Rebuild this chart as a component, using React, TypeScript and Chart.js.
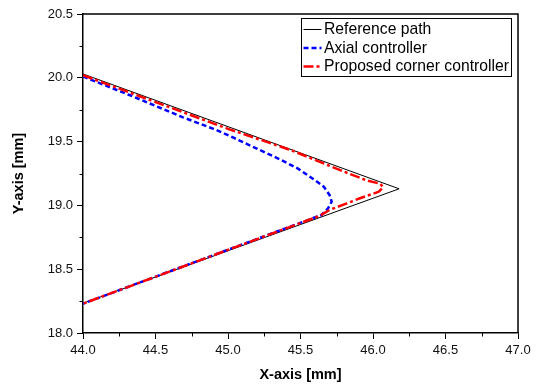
import React, { useEffect, useRef } from "react";
import { Chart, registerables } from "chart.js";

Chart.register(...registerables);

const seriesNames = ["Reference path", "Axial controller", "Proposed corner controller"];

const refX = [44.0, 46.18, 44.0];
const refY = [20.03, 19.13, 18.233];

const axialX = [44.0, 44.32, 44.69, 44.9, 45.03, 45.17, 45.36, 45.48, 45.59, 45.66, 45.7, 45.715, 45.69, 45.645, 44.0];
const axialY = [20.01, 19.865, 19.69, 19.6, 19.535, 19.46, 19.36, 19.29, 19.205, 19.147, 19.082, 19.029, 18.977, 18.925, 18.23];

const propX = [44.0, 45.0, 45.43, 45.77, 45.96, 46.05, 46.07, 46.04, 45.91, 45.82, 45.7, 45.63, 44.0];
const propY = [20.02, 19.6, 19.435, 19.278, 19.194, 19.17, 19.142, 19.107, 19.056, 19.016, 18.964, 18.917, 18.23];

const xTicks = [44.0, 44.5, 45.0, 45.5, 46.0, 46.5, 47.0];
const yTicks = [18.0, 18.5, 19.0, 19.5, 20.0, 20.5];

const toPts = (xs: number[], ys: number[]) => xs.map((x, i) => ({ x, y: ys[i] }));

const FONT = "'Liberation Sans', Arial, sans-serif";

const styles = [
  { color: "#000000", width: 1, dash: [] as number[] },
  { color: "#0000ff", width: 2.5, dash: [5, 3] },
  { color: "#ff0000", width: 2.5, dash: [10, 3, 3, 3] },
];

const framePlugin = {
  id: "frameAndLegend",
  afterDraw(chart: any) {
    const { ctx, chartArea } = chart;
    const xs = chart.scales.x;
    const ys = chart.scales.y;
    ctx.save();
    ctx.strokeStyle = "#000";
    ctx.lineWidth = 1.5;
    ctx.beginPath();
    ctx.moveTo(chartArea.left, chartArea.top);
    ctx.lineTo(chartArea.right, chartArea.top);
    ctx.lineTo(chartArea.right, chartArea.bottom);
    ctx.stroke();
    ctx.lineWidth = 1;
    ctx.beginPath();
    for (let i = 0; i < xTicks.length - 1; i++) {
      const v = (xTicks[i] + xTicks[i + 1]) / 2;
      const px = Math.round(xs.getPixelForValue(v)) + 0.5;
      ctx.moveTo(px, chartArea.bottom);
      ctx.lineTo(px, chartArea.bottom + 3.5);
    }
    for (let i = 0; i < yTicks.length - 1; i++) {
      const v = (yTicks[i] + yTicks[i + 1]) / 2;
      const py = Math.round(ys.getPixelForValue(v)) + 0.5;
      ctx.moveTo(chartArea.left, py);
      ctx.lineTo(chartArea.left - 3.5, py);
    }
    ctx.stroke();

    const w = 210;
    const h = 58;
    const lx = Math.round(chartArea.right - 7 - w) + 0.5;
    const ly = Math.round(chartArea.top + 4) + 0.5;
    ctx.fillStyle = "#fff";
    ctx.fillRect(lx, ly, w, h);
    ctx.strokeStyle = "#000";
    ctx.lineWidth = 1;
    ctx.setLineDash([]);
    ctx.strokeRect(lx, ly, w, h);
    const rows = [11, 29.5, 48];
    ctx.font = `15.7px ${FONT}`;
    ctx.textBaseline = "middle";
    ctx.textAlign = "left";
    seriesNames.forEach((name, i) => {
      const s = styles[i];
      const yy = ly + rows[i];
      ctx.strokeStyle = s.color;
      ctx.lineWidth = s.width;
      ctx.setLineDash(s.dash);
      ctx.beginPath();
      ctx.moveTo(lx + 2, yy);
      ctx.lineTo(lx + 20, yy);
      ctx.stroke();
      ctx.setLineDash([]);
      ctx.fillStyle = "#000";
      ctx.fillText(name, lx + 22.5, yy + 0.5);
    });
    ctx.restore();
  },
};

export default function App() {
  const ref = useRef<HTMLCanvasElement | null>(null);
  useEffect(() => {
    if (!ref.current) return;
    const datasets = [
      { label: seriesNames[0], data: toPts(refX, refY), order: 3 },
      { label: seriesNames[1], data: toPts(axialX, axialY), order: 2 },
      { label: seriesNames[2], data: toPts(propX, propY), order: 1 },
    ].map((d, i) => ({
      ...d,
      showLine: true,
      borderColor: styles[i].color,
      borderWidth: styles[i].width,
      borderDash: styles[i].dash,
      pointRadius: 0,
      pointHoverRadius: 0,
      fill: false,
      tension: 0,
    }));
    const chart = new Chart(ref.current, {
      type: "scatter",
      data: { datasets },
      options: {
        animation: false,
        responsive: false,
        maintainAspectRatio: false,
        devicePixelRatio: 1,
        layout: { padding: { top: 14, right: 22, left: 0, bottom: 0 } },
        plugins: { legend: { display: false }, tooltip: { enabled: false } },
        scales: {
          x: {
            type: "linear",
            min: 44,
            max: 47,
            afterFit: (s: any) => {
              s.height = 52;
            },
            afterBuildTicks: (s: any) => {
              s.ticks = xTicks.map((v) => ({ value: v }));
            },
            ticks: {
              color: "#111",
              font: { family: FONT, size: 13 },
              padding: 4,
              maxRotation: 0,
              callback: (v: any) => Number(v).toFixed(1),
            },
            grid: { drawOnChartArea: false, drawTicks: true, tickLength: 6, color: "#000", lineWidth: 1 },
            border: { display: true, color: "#000", width: 1.5 },
            title: {
              display: true,
              text: "X-axis [mm]",
              color: "#000",
              font: { family: FONT, size: 14.5, weight: "bold" },
              padding: { top: 0, bottom: 1 },
            },
          },
          y: {
            type: "linear",
            min: 18,
            max: 20.5,
            afterFit: (s: any) => {
              s.width = 83;
            },
            afterBuildTicks: (s: any) => {
              s.ticks = yTicks.map((v) => ({ value: v }));
            },
            ticks: {
              color: "#111",
              font: { family: FONT, size: 13 },
              padding: 4,
              callback: (v: any) => Number(v).toFixed(1),
            },
            grid: { drawOnChartArea: false, drawTicks: true, tickLength: 6, color: "#000", lineWidth: 1 },
            border: { display: true, color: "#000", width: 1.5 },
            title: {
              display: true,
              text: "Y-axis [mm]",
              color: "#000",
              font: { family: FONT, size: 14.5, weight: "bold" },
              padding: { top: 10, bottom: 0 },
            },
          },
        },
      },
      plugins: [framePlugin],
    } as any);
    return () => chart.destroy();
  }, []);
  return (
    <div style={{ position: "absolute", left: 0, top: 0, width: 540, height: 385, background: "#fff" }}>
      <canvas ref={ref} width={540} height={385} style={{ width: 540, height: 385, display: "block" }} />
    </div>
  );
}
